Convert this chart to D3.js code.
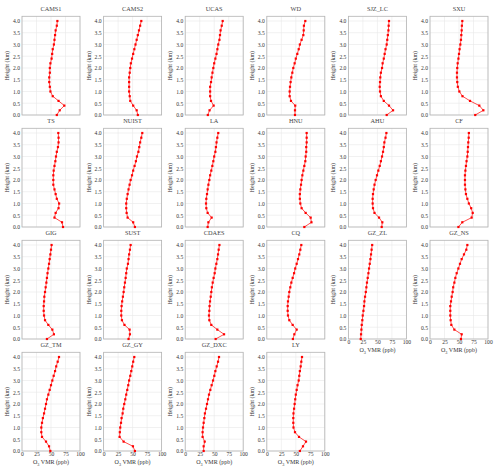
<!DOCTYPE html>
<html>
<head>
<meta charset="utf-8">
<script src="https://cdn.jsdelivr.net/npm/d3@7"></script>
<style>
body { margin: 0; background: #fff; }
svg text { font-family: "Liberation Serif", "Times New Roman", serif; fill: #333; font-weight: normal; }
</style>
</head>
<body>
<div id="chart"></div>
<script>

// station names, in panel order
var stations = ['CAMS1', 'CAMS2', 'UCAS', 'WD', 'SJZ_LC', 'SXU',
                'TS', 'NUIST', 'LA', 'HNU', 'AHU', 'CF',
                'GIG', 'SUST', 'CDAES', 'CQ', 'GZ_ZL', 'GZ_NS',
                'GZ_TM', 'GZ_GY', 'GZ_DXC', 'LY'];

// profile heights (km)
var heights = [0.0, 0.2, 0.4, 0.6, 0.8, 1.0, 1.2, 1.4, 1.6, 1.8, 2.0,
               2.2, 2.4, 2.6, 2.8, 3.0, 3.2, 3.4, 3.6, 3.8, 4.0];

// O3 VMR (ppb), bottom to top
var cams1  = [60, 65, 73, 63, 53, 49, 48, 47, 47, 48, 48, 49, 51, 52, 53, 55, 56, 57, 58, 60, 61];
var cams2  = [59, 57, 51, 46, 45, 44, 44, 44, 44, 45, 46, 47, 49, 51, 53, 55, 57, 59, 61, 63, 65];
var ucas   = [39, 42, 49, 44.5, 43, 43, 43, 44.5, 45.6, 47, 48.5, 50, 52, 54, 55.5, 57, 59, 60, 61, 63, 64.6];
var wd     = [48.6, 48.6, 49, 41.7, 39.4, 39.4, 40, 41, 42.3, 44, 45.7, 48, 50, 52.6, 55, 57, 60, 63, 63.6, 64, 66.4];
var sjz_lc = [66, 77, 70, 61, 56, 54.5, 54, 54.5, 55, 56, 58, 59, 61, 62.5, 64, 66, 67, 68, 69, 69.4, 70];
var sxu    = [78, 92, 85, 69, 56, 50.6, 48, 47, 46.5, 46.5, 47, 47.7, 49, 50, 51, 52.3, 53.4, 54, 54.6, 55, 55.7];
var ts     = [70.7, 69, 56, 58, 63, 64, 60, 58, 56, 54, 54, 54, 54.6, 56, 57.5, 58.6, 60, 62, 63, 63, 62.6];
var nuist  = [54, 51, 41.4, 39.7, 39, 39, 40, 41.4, 43, 44.8, 46.6, 49, 51, 53.4, 55.7, 57.5, 60, 61.5, 63, 65, 66.7];
var la     = [38.7, 40, 45.6, 38.7, 36.4, 35.9, 36.4, 37.6, 38.7, 40, 41.6, 43, 45, 46.8, 48.5, 50, 52, 53, 54, 55.4, 57];
var hnu    = [64.7, 77, 75.6, 67, 60, 57.8, 57, 57, 57.8, 59, 60, 61.3, 63, 64.7, 66.4, 67, 68, 68, 68.7, 68.7, 68.7];
var ahu    = [57.4, 58.5, 52.8, 45, 42.4, 41.8, 41.8, 42.4, 43.6, 45, 47, 49.3, 51.6, 54, 56, 58, 59.7, 61, 62, 64, 65.5];
var cf     = [49, 55.7, 71.8, 73.6, 71, 67, 64.4, 62, 61, 60.3, 60.3, 60.3, 61, 62, 63, 64.4, 65, 65.5, 66, 66.7, 67];
var gig    = [43, 55, 52.3, 45.4, 39.7, 38, 37.4, 37.4, 38, 38.5, 39.7, 40.8, 42, 43, 44, 45.4, 46.6, 47.7, 48.9, 50, 51];
var sust   = [43, 45.4, 44.8, 36, 31.6, 30.5, 30.5, 31, 32, 33.3, 34.5, 35.6, 36.8, 38, 39, 40, 42, 43, 44, 45.4, 46.6];
var cdaes  = [52.5, 67, 55.4, 45, 41.6, 41, 41.6, 42, 42.8, 44, 45, 46, 47.4, 49, 50.8, 52, 53.7, 55.4, 56.6, 57.7, 59];
var cq     = [45, 47.5, 51.5, 44.6, 38.8, 36.5, 36, 36, 36.5, 37.7, 38.8, 40.5, 42.3, 44.6, 47, 49, 51.5, 53.8, 56, 57.8, 59.5];
var gz_zl  = [21.3, 21.8, 22.4, 23, 24, 24.7, 25.9, 27, 27.6, 28.7, 30, 31, 32, 33.3, 34.5, 35.6, 36.8, 38, 39, 40, 41];
var gz_ns  = [53.4, 54.6, 42, 36.8, 35.6, 35, 35, 35, 36.2, 37.4, 39, 40, 42, 43.7, 46, 48.9, 51.7, 54.6, 58.6, 62.6, 64.4];
var gz_tm  = [48.9, 46.6, 41.4, 34.5, 33.3, 33.3, 34.5, 36, 38, 39.7, 41.4, 43, 45.4, 47.7, 50, 52.3, 54.6, 57, 59, 61.5, 63.8];
var gz_gy  = [54, 50.6, 34.5, 27.6, 28, 28.7, 30, 31, 32.8, 33.9, 35.6, 37.4, 39, 40.8, 42.5, 44, 46, 47.7, 49.4, 51, 52.9];
var gz_dxc = [31.8, 31.8, 33.6, 30, 30, 30.7, 31.8, 33, 34, 35.9, 37.6, 39.3, 41, 43.3, 45.6, 48, 50.2, 52, 54.3, 56.6, 58.3];
var ly     = [57, 62.4, 67.6, 55.5, 48.6, 46, 45.7, 45.7, 46, 47, 48, 49, 50, 51.5, 53, 55, 56, 57, 58.4, 59.5, 60.7];

var profiles = [cams1, cams2, ucas, wd, sjz_lc, sxu,
                ts, nuist, la, hnu, ahu, cf,
                gig, sust, cdaes, cq, gz_zl, gz_ns,
                gz_tm, gz_gy, gz_dxc, ly];

var xTicks = [0, 25, 50, 75, 100];
var yTicks = [0, 0.5, 1.0, 1.5, 2.0, 2.5, 3.0, 3.5, 4.0];

var width = 500, height = 471;
var ncol = 6,
    panelW = 58, panelH = 98.7,
    left0 = 22, top0 = 16.3,
    colStep = 81.6, rowStep = 112;

var svg = d3.select('#chart').append('svg')
  .attr('width', width)
  .attr('height', height);

var x = d3.scaleLinear().domain([0, 100]).range([0, panelW]);
var y = d3.scaleLinear().domain([0, 4.2]).range([panelH, 0]);

var line = d3.line()
  .x(function(d) { return x(d.v); })
  .y(function(d) { return y(d.h); });

stations.forEach(function(name, i) {
  var col = i % ncol,
      row = Math.floor(i / ncol);

  var g = svg.append('g')
    .attr('transform', 'translate(' + (left0 + col * colStep) + ',' + (top0 + row * rowStep) + ')');

  // grid
  g.append('g').selectAll('line')
    .data(yTicks)
    .enter().append('line')
    .attr('x1', 0).attr('x2', panelW)
    .attr('y1', function(d) { return y(d); })
    .attr('y2', function(d) { return y(d); })
    .attr('stroke', '#e8e8e8')
    .attr('stroke-width', 0.6);

  g.append('g').selectAll('line')
    .data(xTicks)
    .enter().append('line')
    .attr('x1', function(d) { return x(d); })
    .attr('x2', function(d) { return x(d); })
    .attr('y1', 0).attr('y2', panelH)
    .attr('stroke', '#e8e8e8')
    .attr('stroke-width', 0.6);

  // frame
  g.append('rect')
    .attr('width', panelW)
    .attr('height', panelH)
    .attr('fill', 'none')
    .attr('stroke', '#b4b4b4')
    .attr('stroke-width', 0.8);

  // y axis labels
  var ya = g.append('g')
    .call(d3.axisLeft(y).tickValues(yTicks).tickFormat(d3.format('.1f')).tickSize(0).tickPadding(2));
  ya.select('.domain').remove();
  ya.selectAll('text').style('font-size', '5.6px').style('font-family', '"Liberation Serif", serif').attr('fill', '#333');

  // x axis labels, only where no panel sits below
  if (i + ncol >= stations.length) {
    var xa = g.append('g')
      .attr('transform', 'translate(0,' + panelH + ')')
      .call(d3.axisBottom(x).tickValues(xTicks).tickSize(0).tickPadding(1.5));
    xa.select('.domain').remove();
    xa.selectAll('text').style('font-size', '5.6px').style('font-family', '"Liberation Serif", serif').attr('fill', '#333');

    var xl = g.append('text')
      .attr('x', panelW / 2)
      .attr('y', panelH + 13.5)
      .attr('text-anchor', 'middle')
      .style('font-size', '6px');
    xl.append('tspan').text('O');
    xl.append('tspan').attr('dy', 1.3).style('font-size', '4.2px').text('3');
    xl.append('tspan').attr('dy', -1.3).text(' VMR (ppb)');
  }

  // y axis title
  g.append('text')
    .attr('transform', 'translate(-13,' + (panelH / 2) + ') rotate(-90)')
    .attr('text-anchor', 'middle')
    .style('font-size', '6px')
    .text('Height (km)');

  // panel title
  g.append('text')
    .attr('x', panelW / 2)
    .attr('y', -5.5)
    .attr('text-anchor', 'middle')
    .style('font-size', '6.3px')
    .style('fill', '#444')
    .text(name);

  // profile
  var pts = heights.map(function(h, k) { return { h: h, v: profiles[i][k] }; });

  g.append('path')
    .datum(pts)
    .attr('d', line)
    .attr('fill', 'none')
    .attr('stroke', '#ff0000')
    .attr('stroke-width', 0.7);

  g.selectAll('rect.pt')
    .data(pts)
    .enter().append('rect')
    .attr('class', 'pt')
    .attr('x', function(d) { return x(d.v) - 1.1; })
    .attr('y', function(d) { return y(d.h) - 1.1; })
    .attr('width', 2.2)
    .attr('height', 2.2)
    .attr('fill', '#ff0000');
});

</script>
</body>
</html>
